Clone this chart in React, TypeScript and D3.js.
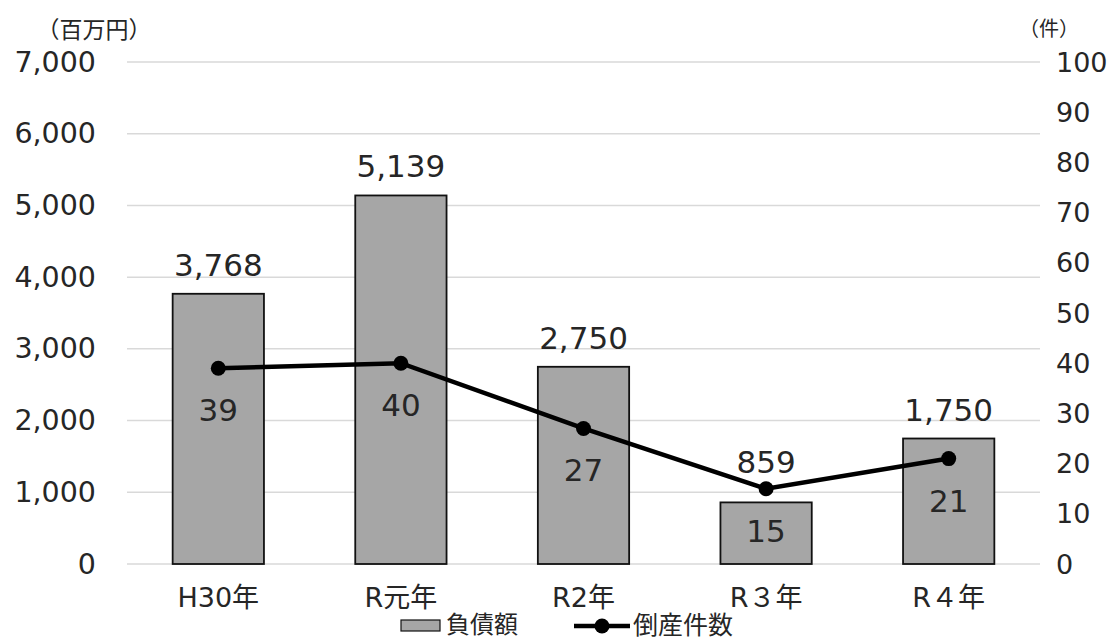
import React from "react";
import * as d3 from "d3";

const years = ["H30年", "R元年", "R2年", "R３年", "R４年"];
const debt = [3768, 5139, 2750, 859, 1750];
const bankruptcies = [39, 40, 27, 15, 21];
const leftTicks = [0, 1000, 2000, 3000, 4000, 5000, 6000, 7000];
const rightTicks = [0, 10, 20, 30, 40, 50, 60, 70, 80, 90, 100];

const W = 1114;
const H = 639;
const plot = { left: 127, right: 1040, top: 62, bottom: 564 };
const FONT = '"DejaVu Sans", "Noto Sans CJK JP", sans-serif';
const INK = "#262626";

export default function App() {
  const x = d3
    .scaleBand<string>()
    .domain(years)
    .range([plot.left, plot.right])
    .paddingInner(0.5)
    .paddingOuter(0.25);
  const yL = d3.scaleLinear().domain([0, 7000]).range([plot.bottom, plot.top]);
  const yR = d3.scaleLinear().domain([0, 100]).range([plot.bottom, plot.top]);
  const fmt = d3.format(",");
  const cx = (d: string) => (x(d) ?? 0) + x.bandwidth() / 2;

  const linePath = d3
    .line<number>()
    .x((_, i) => cx(years[i]))
    .y((v) => yR(v))(bankruptcies);

  // keep the bar value clear of the line marker when the marker sits on the bar top
  const barLabelY = (i: number) =>
    Math.min(yL(debt[i]) - 29, yR(bankruptcies[i]) - 27);

  return (
    <svg
      width={W}
      height={H}
      style={{ position: "absolute", left: 0, top: 0, background: "#fff" }}
      fontFamily={FONT}
    >
      {/* grid */}
      {leftTicks.map((t) => (
        <line
          key={t}
          x1={plot.left}
          x2={plot.right}
          y1={yL(t)}
          y2={yL(t)}
          stroke="#d9d9d9"
          strokeWidth={1.5}
        />
      ))}
      {/* left axis labels */}
      {leftTicks.map((t) => (
        <text
          key={t}
          x={96}
          y={yL(t)}
          textAnchor="end"
          dominantBaseline="central"
          fontSize={28.5}
          fill={INK}
        >
          {fmt(t)}
        </text>
      ))}
      {/* right axis labels */}
      {rightTicks.map((t) => (
        <text
          key={t}
          x={1056}
          y={yR(t)}
          textAnchor="start"
          dominantBaseline="central"
          fontSize={27}
          fill={INK}
        >
          {t}
        </text>
      ))}
      <text x={94} y={30} textAnchor="middle" dominantBaseline="central" fontSize={23} fill={INK}>
        （百万円）
      </text>
      <text x={1049} y={29} textAnchor="middle" dominantBaseline="central" fontSize={20} fill={INK}>
        （件）
      </text>

      {/* bars */}
      {years.map((yr, i) => (
        <rect
          key={yr}
          x={x(yr)}
          y={yL(debt[i])}
          width={x.bandwidth()}
          height={yL(0) - yL(debt[i])}
          fill="#a6a6a6"
          stroke="#111"
          strokeWidth={1.8}
        />
      ))}
      {years.map((yr, i) => (
        <text
          key={yr}
          x={cx(yr)}
          y={barLabelY(i)}
          textAnchor="middle"
          dominantBaseline="central"
          fontSize={31}
          fill={INK}
        >
          {fmt(debt[i])}
        </text>
      ))}

      {/* line */}
      <path d={linePath ?? ""} fill="none" stroke="#000" strokeWidth={4.5} />
      {bankruptcies.map((v, i) => (
        <circle key={i} cx={cx(years[i])} cy={yR(v)} r={7.5} fill="#000" />
      ))}
      {bankruptcies.map((v, i) => (
        <text
          key={i}
          x={cx(years[i])}
          y={yR(v) + 42}
          textAnchor="middle"
          dominantBaseline="central"
          fontSize={31}
          fill={INK}
        >
          {v}
        </text>
      ))}

      {/* x labels */}
      {years.map((yr) => (
        <text
          key={yr}
          x={cx(yr)}
          y={597}
          textAnchor="middle"
          dominantBaseline="central"
          fontSize={27}
          fill={INK}
        >
          {yr}
        </text>
      ))}

      {/* legend */}
      <rect x={401} y={620} width={39} height={11} fill="#a6a6a6" stroke="#111" strokeWidth={1.2} />
      <text x={446} y={625} dominantBaseline="central" fontSize={24} fill={INK}>
        負債額
      </text>
      <line x1={574} x2={630} y1={626} y2={626} stroke="#000" strokeWidth={4.5} />
      <circle cx={602} cy={626} r={7.5} fill="#000" />
      <text x={633} y={625} dominantBaseline="central" fontSize={25} fill={INK}>
        倒産件数
      </text>
    </svg>
  );
}
